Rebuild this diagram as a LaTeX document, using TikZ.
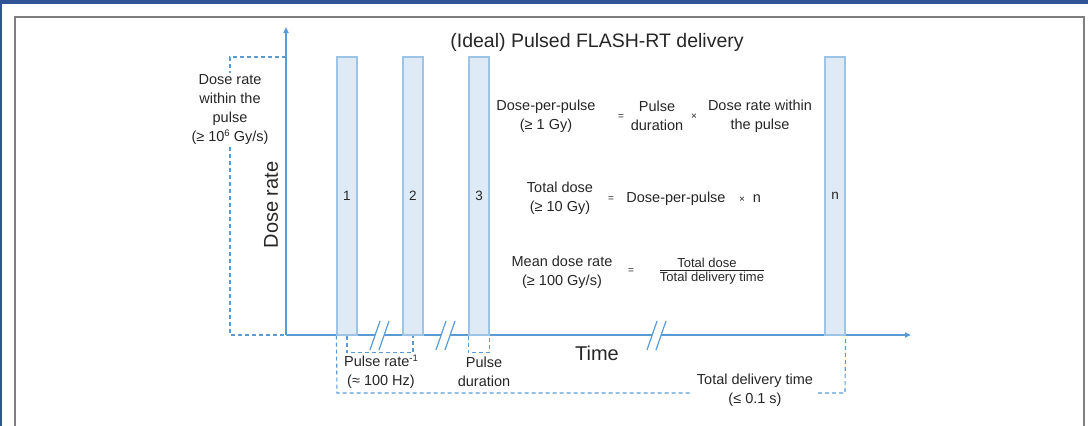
\documentclass[tikz,border=0pt]{standalone}
\usepackage{fontspec}
\setmainfont{Liberation Sans}
\usetikzlibrary{arrows.meta}
\definecolor{axblue}{HTML}{5B9BD5}
\definecolor{barfill}{HTML}{DEEAF6}
\definecolor{barline}{HTML}{9DC3E6}
\definecolor{topblue}{HTML}{2F5597}
\definecolor{framegray}{HTML}{7F7F7F}
\definecolor{txt}{HTML}{262626}
\newcommand{\supr}[1]{\raisebox{5pt}{\fontsize{9.5}{9.5}\selectfont #1}}
\tikzset{
  axis/.style={draw=axblue, line width=1.6pt},
  dsh/.style={draw=axblue, line width=1.1pt, dash pattern=on 4pt off 3pt},
  pulsebar/.style={draw=barline, fill=barfill, line width=1.2pt, minimum width=20pt, minimum height=278pt, inner sep=0pt, text=txt, font=\fontsize{13.5}{15}\selectfont},
  lbl/.style={text=txt, align=center, inner sep=2pt, font=\fontsize{14.5}{19}\selectfont},
  big/.style={text=txt, inner sep=0pt, font=\fontsize{20}{24}\selectfont},
  opsym/.style={text=txt, inner sep=0pt, font=\fontsize{10}{12}\selectfont},
  frac/.style={text=txt, inner sep=0pt, font=\fontsize{13}{15}\selectfont},
  breakmark/.style={draw=axblue, line width=1.2pt}
}
\begin{document}
\begin{tikzpicture}[x=1pt,y=-1pt]
\useasboundingbox (0,0) rectangle (1088,426);
% frame
\fill[topblue] (0,0) rectangle (1088,4);
\fill[topblue] (0,0) rectangle (2,426);
\draw[framegray, line width=2pt] (15,427) -- (15,17) -- (1084,17) -- (1084,427);

% title
\node[big, font=\fontsize{19.5}{24}\selectfont] (title) at (597,42) {(Ideal) Pulsed FLASH-RT delivery};

% axes
\coordinate (O) at (286,335);
\coordinate (ytop) at (286,27);
\coordinate (xend) at (911,335);
\draw[axis, -{Triangle[length=6pt,width=5pt]}] (O) -- (ytop);
\draw[axis, -{Triangle[length=6pt,width=5pt]}] (O) -- (xend);

% pulses
\node[pulsebar] (b1) at (347,196) {1};
\node[pulsebar] (b2) at (413,196) {2};
\node[pulsebar] (b3) at (479,196) {3};
\node[pulsebar] (bn) at (835,196) {n};

% break marks
\foreach \c in {380,446,657}{
  \fill[white] (\c-10,350) -- (\c,321) -- (\c+9,321) -- (\c-1,350) -- cycle;
  \draw[breakmark] (\c-10,350) -- (\c,321);
  \draw[breakmark] (\c-1,350) -- (\c+9,321);
}

% axis labels
\node[big, rotate=90] (ylab) at (271,205) {Dose rate};
\node[big] (xlab) at (597,353) {Time};

% dose rate within the pulse
\coordinate (dtl) at (230,57);
\node[lbl] (drtext) at (230,110) {Dose rate\\within the\\pulse\\(≥ 10\supr{6} Gy/s)};
\draw[dsh] (dtl -| O) -- (dtl) -- (drtext.north);
\draw[dsh] (drtext.south) -- (dtl |- O) -- (O);

% pulse rate bracket
\draw[dsh] (b1.south) -- ++(0,17) -| (b2.south);
\node[lbl] (prate) at (381,372) {Pulse rate\supr{-1}\\(≈ 100 Hz)};

% pulse duration bracket
\draw[dsh] (b3.south west) -- ++(0,17) -| (b3.south east);
\node[lbl] (pdur) at (484,372) {Pulse\\duration};

% total delivery time bracket
\node[lbl, inner sep=5pt] (tdt) at (755,390) {Total delivery time\\(≤ 0.1 s)};
\coordinate (tl) at (337,393);
\coordinate (tr) at (845,393);
\draw[dsh] (b1.south west) -- (tl) -- (tdt.west |- tl);
\draw[dsh] (tdt.east |- tl) -- (tr) -- (bn.south east);

% equation 1
\node[lbl] (dpp) at (546,116) {Dose-per-pulse\\(≥ 1 Gy)};
\node[opsym] (eq1) at (621,117) {=};
\node[lbl] (pd) at (657,116) {Pulse\\duration};
\node[opsym] (x1) at (694,117) {×};
\node[lbl] (drw) at (760,116) {Dose rate within\\the pulse};

% equation 2
\node[lbl] (td) at (560,198) {Total dose\\(≥ 10 Gy)};
\node[opsym] (eq2) at (611,199) {=};
\node[lbl] (dpp2) at (676,199) {Dose-per-pulse};
\node[opsym] (x2) at (742,200) {×};
\node[lbl] (nn) at (757,199) {n};

% equation 3
\node[lbl] (mdr) at (562,272) {Mean dose rate\\(≥ 100 Gy/s)};
\node[opsym] (eq3) at (631,271) {=};
\node[frac] (num) at (707,263) {Total dose};
\node[frac] (den) at (712,278) {Total delivery time};
\draw[txt, line width=0.7pt] (den.west |- 0,270.5) -- (den.east |- 0,270.5);
\end{tikzpicture}
\end{document}
